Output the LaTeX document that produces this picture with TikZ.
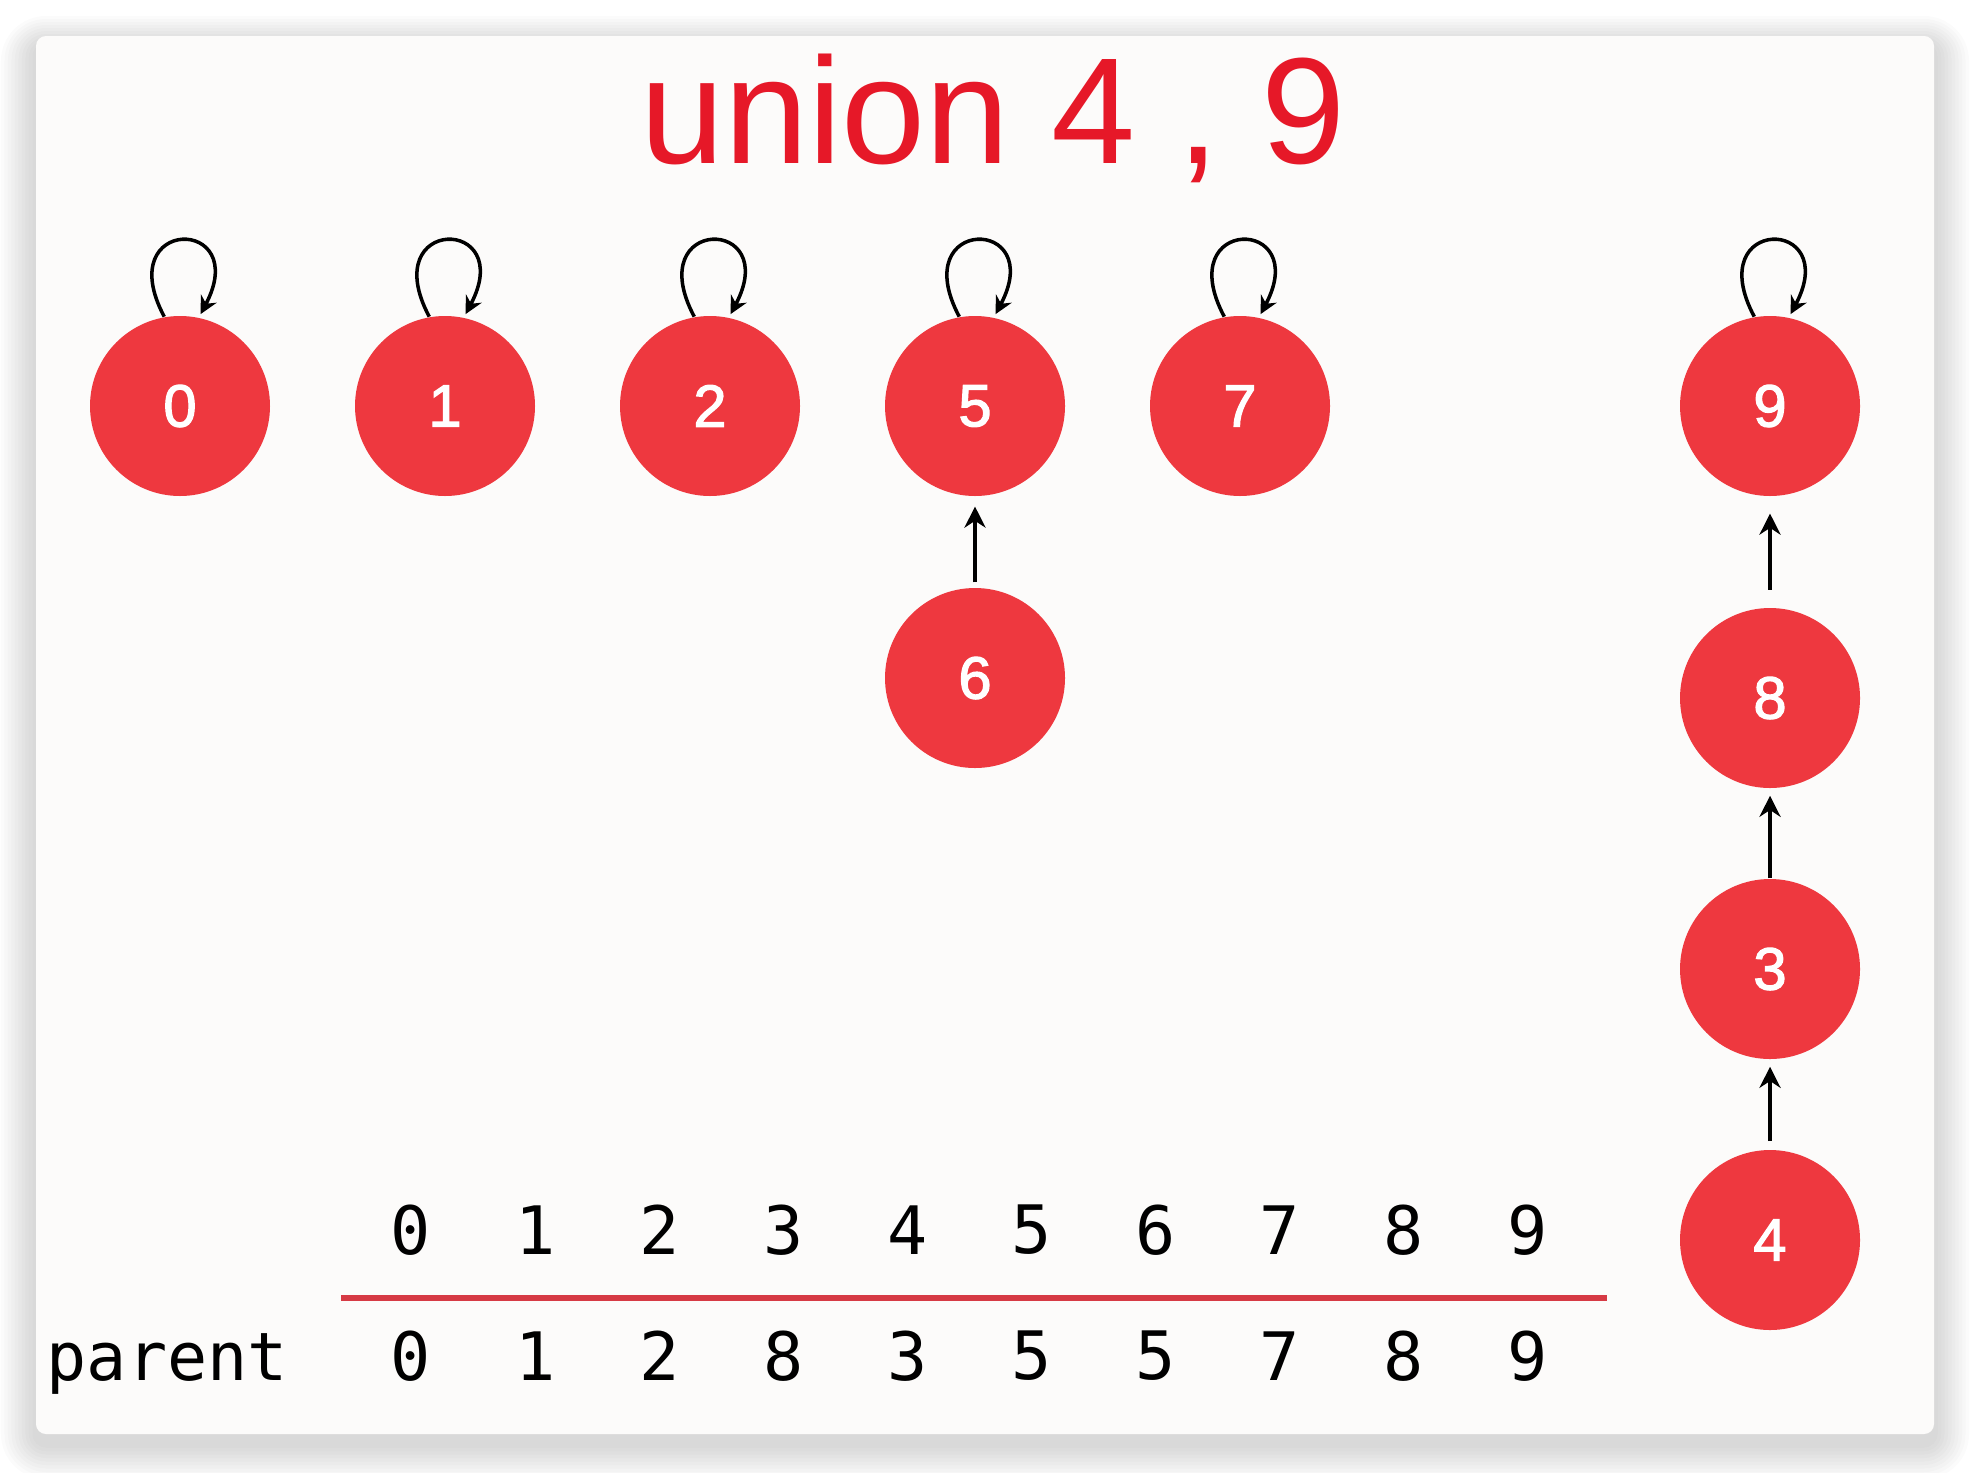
\documentclass[tikz,border=0pt]{standalone}
\usepackage{fontspec}
\setmainfont{Liberation Sans}
\setmonofont{DejaVu Sans Mono}
\newfontfamily\nodefont{Liberation Sans}[FakeBold=2]
\usepackage{tikz}
\usetikzlibrary{arrows.meta}
\usetikzlibrary{positioning}
\definecolor{nodered}{RGB}{238,56,63}
\definecolor{titlered}{RGB}{230,24,40}
\definecolor{rulered}{RGB}{214,58,68}
\definecolor{cardwhite}{RGB}{252,251,250}

\begin{document}
\begin{tikzpicture}[->,>={Stealth[length=6pt,width=6pt]},shorten >=1pt,node distance=2.65cm,
                    main node/.style={circle,fill=nodered,text=white,minimum size=1.8cm,inner sep=0pt,
                                      font=\nodefont\fontsize{17}{17}\selectfont},
                    cell/.style={font=\ttfamily\fontsize{19}{19}\selectfont,inner sep=0pt,node distance=1.241cm},
                    selfloop/.style={out=118,in=62,distance=1.15cm,line width=1pt,
                                     >={Stealth[length=5pt,width=5pt]}},
                    pointer/.style={line width=1.1pt}]

\useasboundingbox (0,0) rectangle (19.70,-14.72);

% card with soft shadow
\begin{scope}[-]
\foreach \s [evaluate=\s as \r using 0.1+\s*0.035] in {1,...,10}
  \fill[black,opacity=0.016,rounded corners=\r cm] (0.36-\s*0.035,-0.46+\s*0.03) rectangle (19.34+\s*0.035,-14.44-\s*0.035);
\fill[cardwhite,rounded corners=0.1cm] (0.36,-0.36) rectangle (19.34,-14.34);
\end{scope}

\node[titlered,font=\fontsize{43}{43}\selectfont,anchor=base] (title) at (9.93,-1.63) {union 4 , 9};

\node[main node] (n0) at (1.80,-4.06) {0};
\node[main node] (n1) [right of=n0] {1};
\node[main node] (n2) [right of=n1] {2};
\node[main node] (n5) [right of=n2] {5};
\node[main node] (n7) [right of=n5] {7};
\node[main node] (n9) [right of=n7, xshift=2.65cm] {9};
\node[main node] (n6) [below of=n5, node distance=2.72cm] {6};
\node[main node] (n8) [below of=n9, node distance=2.92cm] {8};
\node[main node] (n3) [below of=n8, node distance=2.71cm] {3};
\node[main node] (n4) [below of=n3, node distance=2.71cm] {4};

  \path
    (n0.100) edge [selfloop] (n0.78)
    (n1.100) edge [selfloop] (n1.78)
    (n2.100) edge [selfloop] (n2.78)
    (n5.100) edge [selfloop] (n5.78)
    (n7.100) edge [selfloop] (n7.78)
    (n9.100) edge [selfloop] (n9.78)
    (n6) edge [pointer, shorten <=1.4pt, shorten >=2.8pt] (n5)
    (n8) edge [pointer, shorten <=5pt, shorten >=4.8pt] (n9)
    (n3) edge [pointer, shorten >=2pt] (n8)
    (n4) edge [pointer, shorten <=2.3pt, shorten >=2pt] (n3)
;

% parent array
\node[cell] (i0) at (4.11,-12.30) {0};
\node[cell] (i1) [right of=i0] {1};
\node[cell] (i2) [right of=i1] {2};
\node[cell] (i3) [right of=i2] {3};
\node[cell] (i4) [right of=i3] {4};
\node[cell] (i5) [right of=i4] {5};
\node[cell] (i6) [right of=i5] {6};
\node[cell] (i7) [right of=i6] {7};
\node[cell] (i8) [right of=i7] {8};
\node[cell] (i9) [right of=i8] {9};

\draw[-,rulered,line width=1.5pt] (3.41,-12.98) -- (16.10,-12.98);

\node[cell,anchor=base west] (plabel) at (0.46,-13.80) {parent};
\node[cell] (p0) at (4.11,-13.56) {0};
\node[cell] (p1) [right of=p0] {1};
\node[cell] (p2) [right of=p1] {2};
\node[cell] (p3) [right of=p2] {8};
\node[cell] (p4) [right of=p3] {3};
\node[cell] (p5) [right of=p4] {5};
\node[cell] (p6) [right of=p5] {5};
\node[cell] (p7) [right of=p6] {7};
\node[cell] (p8) [right of=p7] {8};
\node[cell] (p9) [right of=p8] {9};
\end{tikzpicture}
\end{document}
